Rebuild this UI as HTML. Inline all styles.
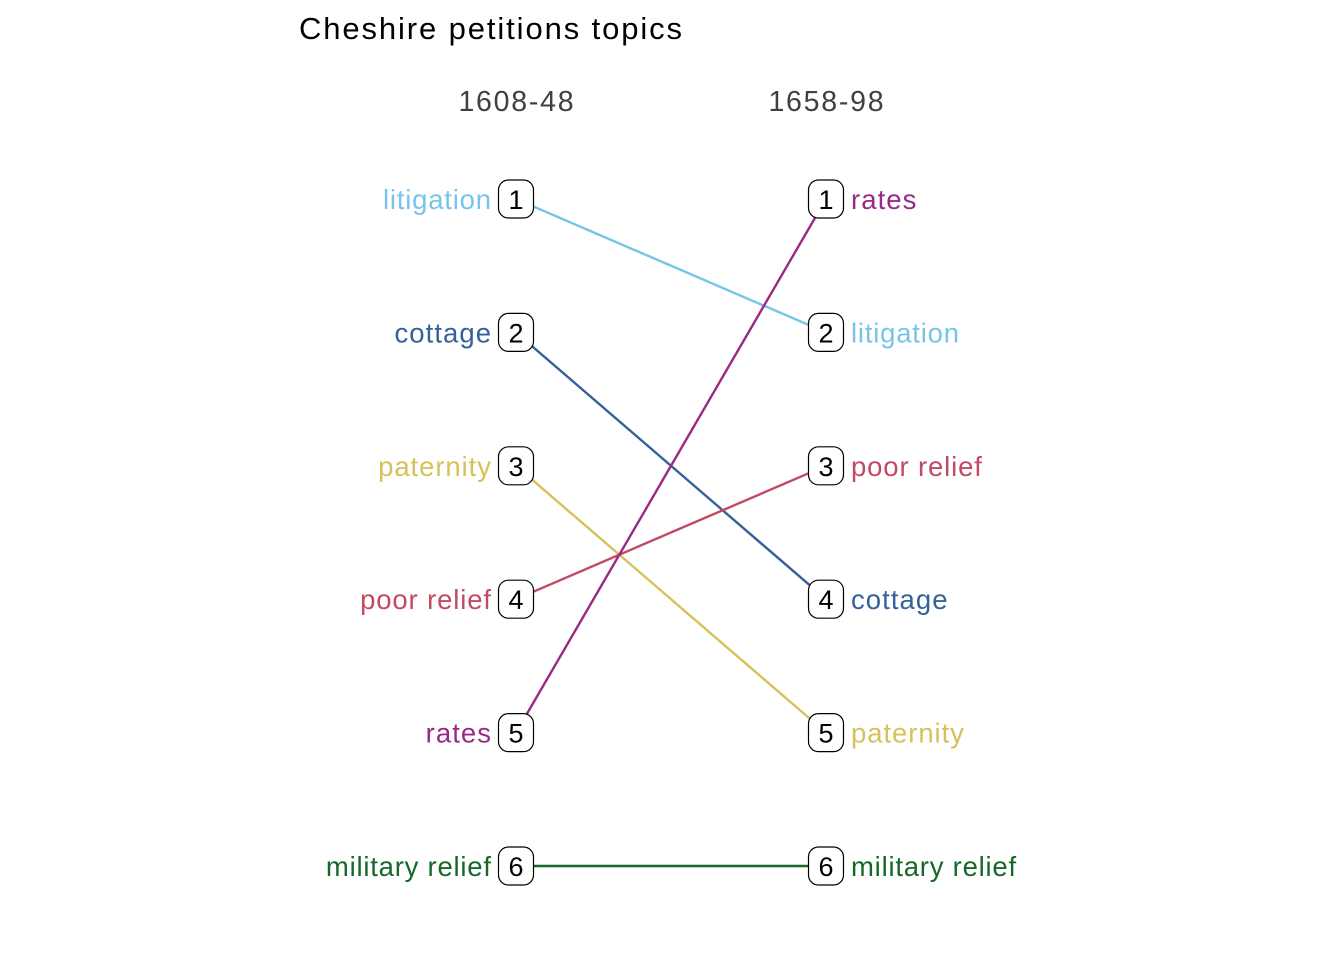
<!DOCTYPE html>
<html><head><meta charset="utf-8"><style>
body{margin:0;background:#fff;}
svg text{font-family:"Liberation Sans",Arial,sans-serif;}
</style></head><body>
<svg width="1344" height="960" xmlns="http://www.w3.org/2000/svg">
<rect width="1344" height="960" fill="#fff"/>
<text x="299" y="39" font-size="31" fill="#000" textLength="383" lengthAdjust="spacing">Cheshire petitions topics</text>
<g id="plot"></g>
</svg>
<script>
const topics = ["litigation","cottage","paternity","poor relief","rates","military relief"];
const rankEarly = [1,2,3,4,5,6];
const rankLate = [2,4,5,3,1,6];
const colors = ["#78C3EA","#35619A","#D6C25B","#C24A62","#982A85","#17672A"];
const periods = ["1608-48","1658-98"];
const xPos = [516, 826];
function yScale(r){ return 199 + (r-1)*133.4; }
const NS="http://www.w3.org/2000/svg";
const g=document.getElementById('plot');
function mk(tag,attrs,parent){const e=document.createElementNS(NS,tag);for(const k in attrs)e.setAttribute(k,attrs[k]);(parent||g).appendChild(e);return e;}
function stretch(t,f){const w=t.getComputedTextLength();t.setAttribute('textLength',(w*f).toFixed(1));t.setAttribute('lengthAdjust','spacing');}
periods.forEach((p,i)=>{
  const t=mk('text',{x:xPos[i],y:111,'font-size':28.5,fill:'#404040','text-anchor':'middle'});
  
  
  t.textContent=p;
  stretch(t,1.1);
});
topics.forEach((name,i)=>{
  const l=mk('line',{x1:xPos[0],y1:yScale(rankEarly[i]),x2:xPos[1],y2:yScale(rankLate[i]),stroke:colors[i],'stroke-width':2.4});
  
  
});
topics.forEach((name,i)=>{
  [[rankEarly[i],0],[rankLate[i],1]].forEach(([r,side])=>{
    const x=xPos[side], y=yScale(r);
    const b=mk('rect',{x:x-17.5,y:y-19,width:35,height:38,rx:10,fill:'#fff',stroke:'#000','stroke-width':1.2});
    
    
    const n=mk('text',{x:x,y:y+10,'font-size':27,fill:'#000','text-anchor':'middle'});
    
    
    n.textContent=r;
    const lab=mk('text',{x:side?x+25:x-25,y:y+10,'font-size':27.5,fill:colors[i],'text-anchor':side?'start':'end'});
    
    
    lab.textContent=name;
    stretch(lab,1.07);
  });
});
</script>
</body></html>
